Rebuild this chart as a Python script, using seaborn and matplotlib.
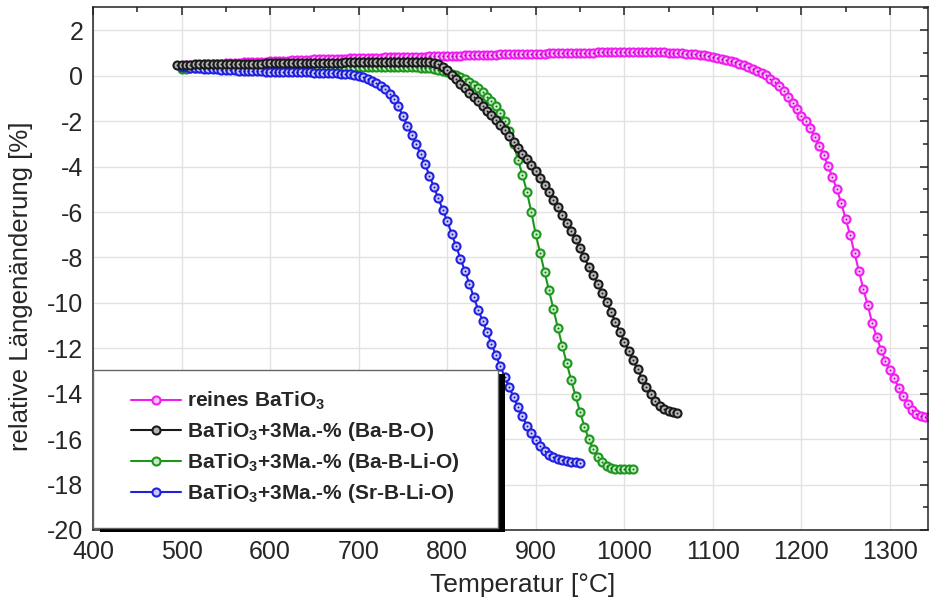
import numpy as np
import matplotlib
matplotlib.use("Agg")
import matplotlib.pyplot as plt
import matplotlib.ticker as mticker
from matplotlib.patches import Rectangle
import seaborn as sns

# dilatometer curves, one reading every 5 °C
step = 5

pure_start = 500
pure = [
    0.45, 0.46, 0.47, 0.48, 0.49, 0.50, 0.51, 0.52, 0.53, 0.54,
    0.55, 0.56, 0.57, 0.58, 0.59, 0.60, 0.61, 0.62, 0.63, 0.63,
    0.64, 0.65, 0.66, 0.66, 0.67, 0.68, 0.69, 0.69, 0.70, 0.71,
    0.72, 0.72, 0.73, 0.74, 0.74, 0.75, 0.76, 0.76, 0.77, 0.77,
    0.78, 0.78, 0.79, 0.79, 0.80, 0.80, 0.81, 0.81, 0.82, 0.82,
    0.83, 0.83, 0.84, 0.84, 0.85, 0.85, 0.86, 0.86, 0.87, 0.87,
    0.88, 0.88, 0.89, 0.89, 0.90, 0.90, 0.91, 0.91, 0.92, 0.92,
    0.93, 0.93, 0.94, 0.94, 0.95, 0.95, 0.96, 0.96, 0.97, 0.97,
    0.97, 0.98, 0.98, 0.99, 0.99, 1.00, 1.00, 1.00, 1.01, 1.01,
    1.01, 1.02, 1.02, 1.02, 1.03, 1.03, 1.03, 1.03, 1.03, 1.04,
    1.04, 1.04, 1.04, 1.04, 1.04, 1.04, 1.03, 1.03, 1.03, 1.03,
    1.02, 1.01, 1.00, 0.99, 0.98, 0.97, 0.95, 0.93, 0.90, 0.86,
    0.82, 0.77, 0.73, 0.69, 0.65, 0.60, 0.53, 0.46, 0.40, 0.32,
    0.23, 0.14, 0.04, -0.12, -0.28, -0.46, -0.69, -0.92, -1.20, -1.47,
    -1.75, -2.00, -2.30, -2.68, -3.08, -3.48, -3.95, -4.47, -4.98, -5.60,
    -6.30, -7.00, -7.80, -8.60, -9.40, -10.10, -10.90, -11.48, -12.07, -12.55,
    -12.95, -13.32, -13.75, -14.08, -14.43, -14.72, -14.90, -14.99, -15.03, -15.04,
]

bbo_start = 495
bbo = [
    0.48, 0.48, 0.49, 0.49, 0.50, 0.50, 0.50, 0.51, 0.51, 0.51,
    0.52, 0.52, 0.52, 0.53, 0.53, 0.53, 0.54, 0.54, 0.54, 0.54,
    0.55, 0.55, 0.55, 0.55, 0.56, 0.56, 0.56, 0.56, 0.57, 0.57,
    0.57, 0.57, 0.57, 0.58, 0.58, 0.58, 0.58, 0.58, 0.59, 0.59,
    0.59, 0.59, 0.59, 0.59, 0.60, 0.60, 0.60, 0.60, 0.60, 0.61,
    0.61, 0.61, 0.61, 0.61, 0.61, 0.61, 0.61, 0.60, 0.58, 0.50,
    0.40, 0.24, 0.04, -0.15, -0.36, -0.55, -0.74, -0.93, -1.12, -1.32,
    -1.53, -1.73, -1.93, -2.15, -2.38, -2.63, -2.90, -3.17, -3.43, -3.68,
    -3.94, -4.20, -4.48, -4.80, -5.12, -5.45, -5.78, -6.14, -6.50, -6.82,
    -7.17, -7.60, -8.00, -8.42, -8.77, -9.18, -9.55, -9.98, -10.40, -10.85,
    -11.27, -11.70, -12.10, -12.52, -12.93, -13.33, -13.70, -14.03, -14.31, -14.52,
    -14.66, -14.76, -14.82, -14.86,
]

bbli_start = 500
bbli = [
    0.32, 0.32, 0.33, 0.33, 0.33, 0.33, 0.34, 0.34, 0.34, 0.34,
    0.34, 0.35, 0.35, 0.35, 0.35, 0.35, 0.35, 0.36, 0.36, 0.36,
    0.36, 0.36, 0.36, 0.36, 0.37, 0.37, 0.37, 0.37, 0.37, 0.37,
    0.37, 0.37, 0.38, 0.38, 0.38, 0.38, 0.38, 0.38, 0.38, 0.38,
    0.38, 0.38, 0.38, 0.38, 0.38, 0.38, 0.38, 0.38, 0.38, 0.38,
    0.38, 0.38, 0.37, 0.37, 0.36, 0.35, 0.34, 0.31, 0.27, 0.22,
    0.17, 0.10, 0.03, -0.05, -0.15, -0.26, -0.39, -0.54, -0.73, -0.93,
    -1.10, -1.35, -1.65, -2.00, -2.45, -3.00, -3.70, -4.37, -5.10, -6.00,
    -6.98, -7.80, -8.65, -9.45, -10.28, -11.10, -11.90, -12.65, -13.40, -14.10,
    -14.80, -15.45, -16.00, -16.45, -16.80, -17.02, -17.18, -17.27, -17.31, -17.32,
    -17.33, -17.33, -17.33,
]

sbli_start = 500
sbli = [
    0.40, 0.38, 0.36, 0.35, 0.33, 0.31, 0.30, 0.29, 0.28, 0.27,
    0.26, 0.25, 0.24, 0.23, 0.22, 0.22, 0.21, 0.20, 0.20, 0.19,
    0.19, 0.18, 0.18, 0.17, 0.17, 0.16, 0.16, 0.15, 0.15, 0.15,
    0.14, 0.14, 0.13, 0.13, 0.12, 0.11, 0.10, 0.08, 0.06, 0.03,
    -0.01, -0.06, -0.12, -0.21, -0.32, -0.45, -0.60, -0.78, -1.00, -1.35,
    -1.78, -2.20, -2.60, -3.00, -3.45, -3.90, -4.40, -4.90, -5.40, -5.90,
    -6.40, -6.95, -7.50, -8.05, -8.60, -9.15, -9.75, -10.30, -10.80, -11.30,
    -11.80, -12.30, -12.80, -13.25, -13.70, -14.15, -14.60, -15.00, -15.40, -15.75,
    -16.05, -16.30, -16.50, -16.68, -16.78, -16.87, -16.93, -16.97, -17.00, -17.02,
    -17.03,
]

labels = [
    r"reines BaTiO$_3$",
    r"BaTiO$_3$+3Ma.-% (Ba-B-O)",
    r"BaTiO$_3$+3Ma.-% (Ba-B-Li-O)",
    r"BaTiO$_3$+3Ma.-% (Sr-B-Li-O)",
]
x_ticks = list(range(400, 1301, 100))
y_ticks = list(range(-20, 3, 2))

sns.set_theme(style="white")
plt.rcParams["font.family"] = ["Liberation Sans", "DejaVu Sans"]
plt.rcParams["mathtext.fontset"] = "custom"
plt.rcParams["mathtext.rm"] = "Liberation Sans:bold"
plt.rcParams["mathtext.default"] = "rm"
plt.rcParams["axes.unicode_minus"] = False

fig = plt.figure(figsize=(9.32, 5.99), dpi=100)
ax = fig.add_axes([0.0998, 0.1152, 0.8959, 0.8731])

# (label, start, values, edge colour, fill colour, dot colour, zorder)
series = [
    (labels[0], pure_start, pure, "#f01cf0", "#fcc4fc", "#a010a0", 2.0),
    (labels[1], bbo_start, bbo, "#1a1a1a", "#b4b4b4", "#1a1a1a", 2.6),
    (labels[2], bbli_start, bbli, "#1e961e", "#c4ecc4", "#146414", 2.2),
    (labels[3], sbli_start, sbli, "#2020e0", "#c8c8ff", "#1010a0", 2.4),
]

for label, start, vals, col, fill, dot, z in series:
    temps = np.arange(start, start + step * len(vals), step)
    sns.lineplot(x=temps, y=vals, ax=ax, color=col, linewidth=1.5,
                 marker="o", markersize=5.8, markeredgewidth=1.5,
                 markerfacecolor=fill, markeredgecolor=col,
                 label=label, zorder=z, sort=False, estimator=None)
    sns.scatterplot(x=temps, y=vals, ax=ax, color=dot, s=1.8,
                    linewidth=0, zorder=z + 0.05, legend=False)

ax.set_xlim(400, 1343)
ax.set_ylim(-20, 3.03)
ax.xaxis.set_major_locator(mticker.FixedLocator(x_ticks))
ax.yaxis.set_major_locator(mticker.FixedLocator(y_ticks))
ax.xaxis.set_minor_locator(mticker.MultipleLocator(50))
ax.yaxis.set_minor_locator(mticker.MultipleLocator(1))
ax.grid(True, which="major", color="#e2e2e2", linewidth=1.0)
ax.set_axisbelow(True)

ax.tick_params(which="both", direction="in", top=True, right=True,
               color="#222222", width=1.1)
ax.tick_params(which="major", length=6, labelsize=18, pad=7)
ax.tick_params(which="minor", length=3.5)
for side in ax.spines.values():
    side.set_color("#222222")
    side.set_linewidth(1.1)

ax.set_xlabel("Temperatur [°C]", fontsize=19)
ax.set_ylabel("relative Längenänderung [%]", fontsize=18.5)
ax.xaxis.set_label_coords(0.514, -0.082)
ax.yaxis.set_label_coords(-0.0715, 0.467)

# legend frame with a solid black drop shadow
bx, by, bw, bh = 0.0, 0.004, 0.485, 0.302
ax.add_patch(Rectangle((bx + 0.0085, by - 0.008), bw, bh, transform=ax.transAxes,
                       facecolor="black", edgecolor="none", zorder=5,
                       clip_on=False))
ax.add_patch(Rectangle((bx, by), bw, bh, transform=ax.transAxes,
                       facecolor="white", edgecolor="#666666", linewidth=1.0,
                       zorder=5.1, clip_on=False))

handles, names = ax.get_legend_handles_labels()
leg = ax.legend(handles, names, loc="upper left", bbox_to_anchor=(0.045, 0.268),
                frameon=False, borderpad=0, borderaxespad=0,
                prop={"weight": "bold", "size": 15}, handlelength=2.4,
                handletextpad=0.3, labelspacing=0.38)
leg.set_zorder(6)

fig.savefig("out.png", dpi=100)
